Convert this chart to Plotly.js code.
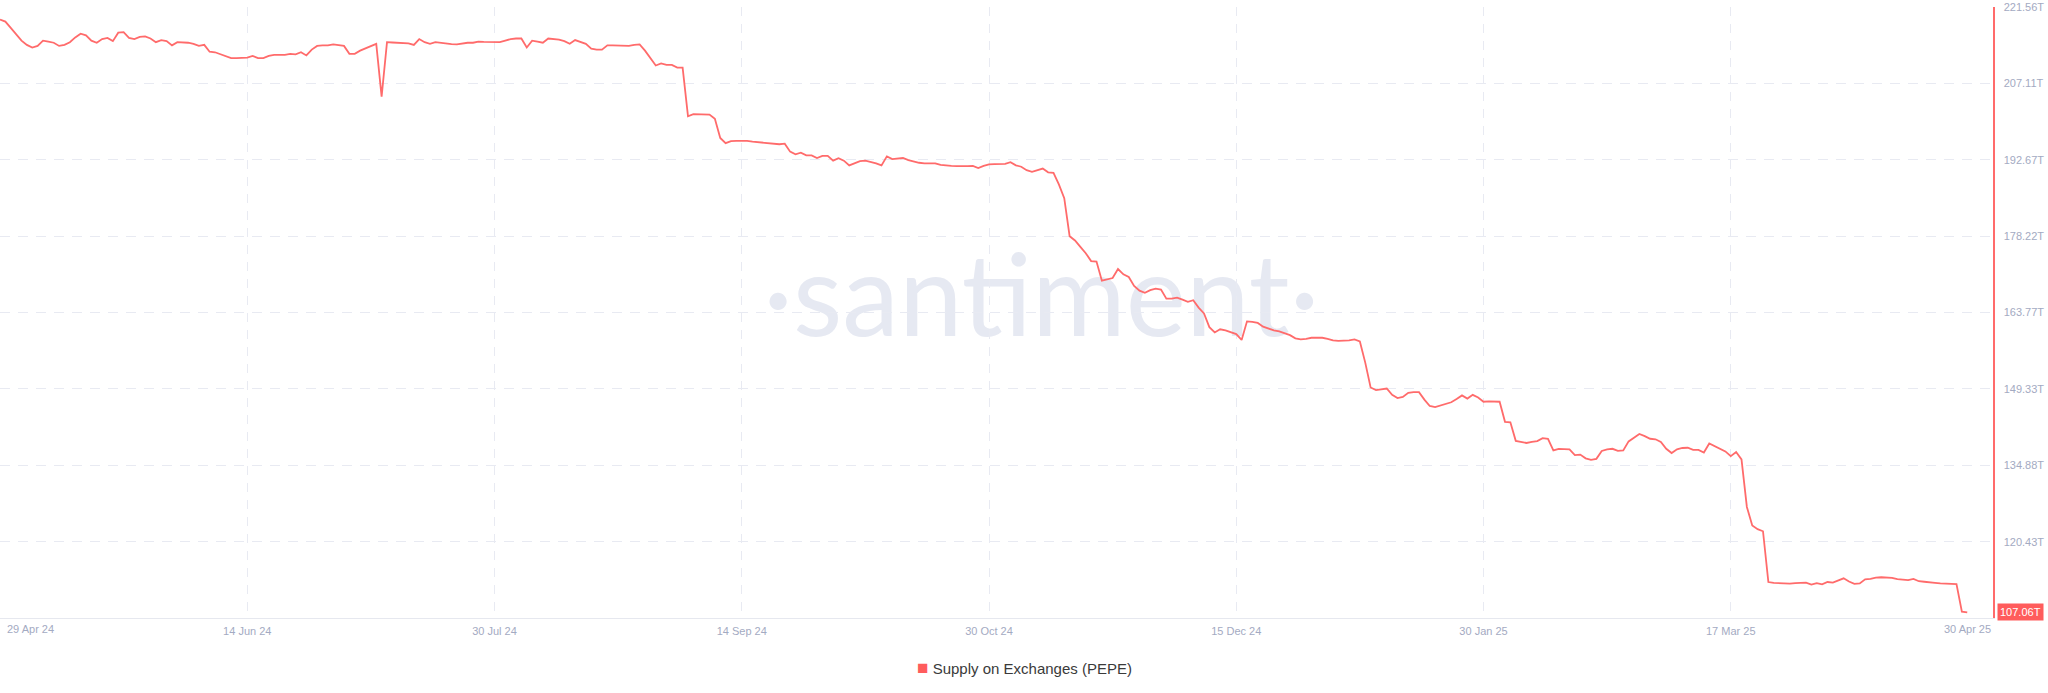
<!DOCTYPE html>
<html>
<head>
<meta charset="utf-8">
<script src="https://cdn.plot.ly/plotly-3.0.1.min.js"></script>
<style>
  html, body { margin: 0; padding: 0; background: #ffffff; }
  #chart { width: 2048px; height: 693px; }
</style>
</head>
<body>
<div id="chart"></div>
<script>
// Daily series: Supply on Exchanges (PEPE), trillions, from 29 Apr 2024 to 30 Apr 2025
const seriesName = 'Supply on Exchanges (PEPE)';
const startDate = '2024-04-29';
const supplyT = [
  219.2, 218.8, 217.6, 216.5, 215.2, 214.4, 213.9, 214.2, 215.2, 215.0,
  214.8, 214.2, 214.4, 214.9, 215.8, 216.5, 216.2, 215.2, 214.8, 215.5,
  215.7, 215.1, 216.7, 216.8, 215.7, 215.5, 215.9, 216.0, 215.6, 214.9,
  215.3, 215.1, 214.3, 214.9, 214.85, 214.8, 214.6, 214.2, 214.4, 213.1,
  213.0, 212.6, 212.3, 211.9, 211.9, 212.0, 212.0, 212.3, 211.9, 211.9,
  212.3, 212.5, 212.5, 212.5, 212.7, 212.6, 213.0, 212.4, 213.5, 214.2,
  214.3, 214.3, 214.5, 214.4, 214.2, 212.7, 212.7, 213.3, 213.7, 214.2,
  214.6, 204.6, 214.9, 214.85, 214.8, 214.75, 214.7, 214.4, 215.5, 214.9,
  214.6, 214.9, 214.75, 214.6, 214.55, 214.5, 214.65, 214.8, 214.8, 215.0,
  214.95, 214.9, 214.9, 214.9, 215.2, 215.5, 215.6, 215.6, 213.9, 215.2,
  215.0, 214.8, 215.6, 215.5, 215.4, 215.1, 214.6, 215.3, 215.0, 214.6,
  213.7, 213.5, 213.5, 214.3, 214.3, 214.3, 214.25, 214.2, 214.4, 214.5,
  213.3, 212.0, 210.5, 210.9, 210.6, 210.6, 210.1, 210.1, 200.9, 201.3,
  201.25, 201.2, 201.2, 200.4, 196.8, 195.8, 196.2, 196.25, 196.3, 196.25,
  196.1, 196.0, 195.85, 195.7, 195.65, 195.6, 195.7, 194.2, 193.7, 194.0,
  193.5, 193.5, 193.0, 193.4, 193.4, 192.5, 192.96, 192.5, 191.6, 192.0,
  192.4, 192.5, 192.3, 192.0, 191.6, 193.3, 192.8, 192.9, 193.0, 192.6,
  192.3, 192.1, 192.0, 192.0, 192.0, 191.7, 191.55, 191.5, 191.45, 191.4,
  191.45, 191.5, 191.1, 191.5, 191.8, 191.85, 191.85, 191.9, 192.2, 191.6,
  191.35, 190.7, 190.4, 190.7, 191.0, 190.3, 190.2, 188.0, 185.4, 178.2,
  177.4, 176.2, 175.0, 173.5, 173.4, 169.8, 170.1, 170.3, 172.0, 171.0,
  170.5, 168.8, 167.9, 167.5, 168.0, 168.3, 168.1, 166.4, 166.4, 166.6,
  166.2, 165.8, 166.1, 164.7, 163.6, 161.0, 160.0, 160.6, 160.4, 160.1,
  159.7, 158.6, 162.1, 162.0, 161.8, 161.1, 160.7, 160.4, 160.2, 159.9,
  159.5, 158.9, 158.7, 158.8, 159.0, 159.0, 159.0, 158.8, 158.5, 158.4,
  158.45, 158.5, 158.7, 158.3, 154.3, 149.6, 149.1, 149.2, 149.4, 148.2,
  147.6, 147.8, 148.6, 148.7, 148.7, 147.3, 146.1, 145.9, 146.2, 146.5,
  146.8, 147.4, 148.1, 147.5, 148.2, 147.7, 146.9, 146.95, 146.95, 146.9,
  143.1, 143.0, 139.5, 139.3, 139.1, 139.3, 139.45, 140.0, 139.9, 137.7,
  138.0, 137.95, 137.9, 136.8, 136.9, 136.2, 135.9, 136.1, 137.6, 137.9,
  138.0, 137.6, 137.7, 139.4, 140.1, 140.8, 140.4, 139.9, 139.8, 139.3,
  138.0, 137.2, 137.9, 138.15, 138.2, 137.8, 137.8, 137.3, 139.0, 138.5,
  138.05, 137.5, 136.6, 137.4, 136.0, 127.0, 123.5, 122.8, 122.4, 112.8,
  112.65, 112.6, 112.55, 112.5, 112.6, 112.65, 112.7, 112.3, 112.6, 112.35,
  112.8, 112.7, 113.1, 113.5, 112.9, 112.45, 112.55, 113.3, 113.4, 113.65,
  113.7, 113.65, 113.6, 113.35, 113.3, 113.15, 113.4, 112.95, 112.85, 112.8,
  112.65, 112.55, 112.5, 112.45, 112.4, 107.2, 107.06
];

// Axis ticks
const xTickDates = ['2024-04-29', '2024-06-14', '2024-07-30', '2024-09-14', '2024-10-30', '2024-12-15', '2025-01-30', '2025-03-17'];
const xTickLabels = ['', '14 Jun 24', '30 Jul 24', '14 Sep 24', '30 Oct 24', '15 Dec 24', '30 Jan 25', '17 Mar 25'];
const firstDateLabel = '29 Apr 24';
const lastDate = '2025-04-30';
const lastDateLabel = '30 Apr 25';
const yTickValues = [120.43, 134.88, 149.33, 163.77, 178.22, 192.67, 207.11, 221.56];
const yTickLabels = ['120.43T', '134.88T', '149.33T', '163.77T', '178.22T', '192.67T', '207.11T', '221.56T'];
const yMin = 105.996, yMax = 221.56;
const xEnd = '2025-05-04 19:00';
const lastValueLabel = '107.06T';

// Build daily dates from the start date
const t0 = Date.parse(startDate + 'T00:00:00Z');
const dates = supplyT.map((_, i) => new Date(t0 + i * 86400000).toISOString().slice(0, 10));

const lineColor = '#ff6b6b';
const tickColor = '#a3aac2';
const gridColor = '#e8eaf2';
const fontFam = 'Liberation Sans, Arial, sans-serif';

const trace = {
  type: 'scatter',
  mode: 'lines',
  x: dates,
  y: supplyT,
  name: seriesName,
  line: { color: lineColor, width: 1.8 },
  hoverinfo: 'x+y'
};

const layout = {
  width: 2048,
  height: 693,
  margin: { l: 0, r: 55, t: 7, b: 75, pad: 0 },
  paper_bgcolor: '#ffffff',
  plot_bgcolor: '#ffffff',
  showlegend: false,
  font: { family: fontFam, size: 11, color: tickColor },
  xaxis: {
    type: 'date',
    range: [startDate, xEnd],
    tickmode: 'array',
    tickvals: xTickDates,
    ticktext: xTickLabels,
    showgrid: true,
    gridcolor: gridColor,
    gridwidth: 1,
    griddash: '9px,8px',
    zeroline: false,
    showline: true,
    linecolor: '#e6e8ef',
    linewidth: 1,
    ticks: '',
    ticklabelstandoff: 3,
    tickfont: { family: fontFam, size: 11, color: tickColor }
  },
  yaxis: {
    side: 'right',
    range: [yMin, yMax],
    tickmode: 'array',
    tickvals: yTickValues,
    ticktext: yTickLabels,
    showgrid: true,
    gridcolor: gridColor,
    gridwidth: 1,
    griddash: '10px,8px',
    zeroline: false,
    showline: true,
    linecolor: lineColor,
    linewidth: 1.5,
    ticks: '',
    ticklabelstandoff: 7,
    tickfont: { family: fontFam, size: 11, color: tickColor }
  },
  shapes: [{
    type: 'rect',
    xref: 'paper', yref: 'paper',
    x0: 0.30, x1: 0.745, y0: 0.386, y1: 0.686,
    line: { width: 0 },
    fillcolor: 'rgba(0,0,0,0)',
    layer: 'below',
    label: {
      text: '·santiment·',
      textposition: 'middle center',
      font: { family: 'Lato, Open Sans, sans-serif', size: 114, color: '#e6e9f2' }
    }
  }],
  annotations: [
    {
      xref: 'paper', yref: 'paper', x: 0, y: 0,
      xanchor: 'left', yanchor: 'middle', xshift: 5, yshift: -11,
      text: firstDateLabel, showarrow: false,
      font: { family: fontFam, size: 11, color: tickColor }
    },
    {
      xref: 'x', yref: 'paper', x: lastDate, y: 0,
      xanchor: 'center', yanchor: 'middle', yshift: -11,
      text: lastDateLabel, showarrow: false,
      font: { family: fontFam, size: 11, color: tickColor }
    },
    {
      xref: 'paper', yref: 'y', x: 1, y: supplyT[supplyT.length - 1],
      xanchor: 'left', yanchor: 'middle', xshift: 4,
      text: lastValueLabel, showarrow: false,
      bgcolor: '#ff5c5c', borderpad: 2,
      font: { family: fontFam, size: 11, color: '#ffffff' }
    },
    {
      xref: 'paper', yref: 'paper', x: 0.5138, y: 0,
      xanchor: 'center', yanchor: 'middle', yshift: -49,
      text: '<span style="color:#ff5c5c;font-size:19px">■</span> ' + seriesName,
      showarrow: false,
      font: { family: fontFam, size: 15, color: '#3a3a3a' }
    }
  ]
};

Plotly.newPlot('chart', [trace], layout, { displayModeBar: false, staticPlot: true });
</script>
</body>
</html>
